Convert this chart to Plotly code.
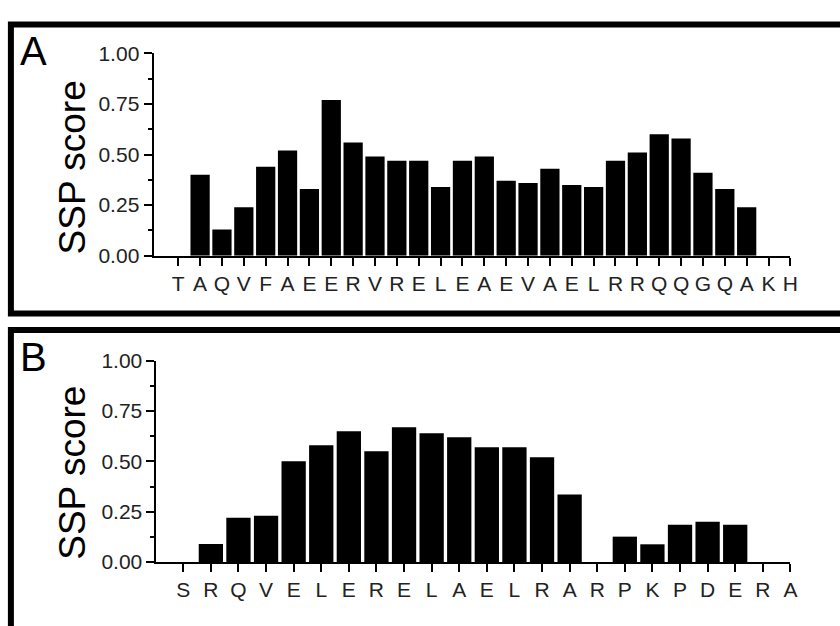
import plotly.graph_objects as go

W, H = 840, 626

# Panel A data
res_a = ["T","A","Q","V","F","A","E","E","R","V","R","E","L","E","A","E","V","A","E","L","R","R","Q","Q","G","Q","A","K","H"]
ssp_a = [None,0.40,0.13,0.24,0.44,0.52,0.33,0.77,0.56,0.49,0.47,0.47,0.34,0.47,0.49,0.37,0.36,0.43,0.35,0.34,0.47,0.51,0.60,0.58,0.41,0.33,0.24,None,None]

# Panel B data
res_b = ["S","R","Q","V","E","L","E","R","E","L","A","E","L","R","A","R","P","K","P","D","E","R","A"]
ssp_b = [None,0.09,0.22,0.23,0.50,0.58,0.65,0.55,0.67,0.64,0.62,0.57,0.57,0.52,0.335,None,0.126,0.088,0.185,0.20,0.185,None,None]

yticks = [0, 0.25, 0.5, 0.75, 1.0]
ytext = ["0.00", "0.25", "0.50", "0.75", "1.00"]

def px(x):
    return x / W

def py(y):
    return 1 - y / H

fig = go.Figure()
fig.add_trace(go.Bar(x=list(range(len(res_a))), y=ssp_a, marker=dict(color="black", line=dict(width=0)),
                     xaxis="x", yaxis="y", showlegend=False))
fig.add_trace(go.Bar(x=list(range(len(res_b))), y=ssp_b, marker=dict(color="black", line=dict(width=0)),
                     xaxis="x2", yaxis="y2", showlegend=False))

font_tick = dict(family="Liberation Sans, Arial, sans-serif", size=21, color="#222")

def xaxis_cfg(domain, rng, labels, anchor):
    return dict(domain=domain, range=rng, anchor=anchor, tickmode="array",
                tickvals=list(range(len(labels))), ticktext=labels, ticks="outside",
                ticklen=8, tickwidth=2, tickcolor="black", showline=True, linewidth=2,
                linecolor="black", showgrid=False, zeroline=False, tickfont=font_tick,
                fixedrange=True)

def yaxis_cfg(domain, anchor):
    return dict(domain=domain, range=[0, 1], anchor=anchor, tickmode="array",
                tickvals=yticks, ticktext=ytext, ticks="outside", ticklen=8, tickwidth=2,
                tickcolor="black", showline=True, linewidth=2, linecolor="black",
                showgrid=False, zeroline=False, tickfont=font_tick,
                minor=dict(tickmode="array", tickvals=[0.125, 0.375, 0.625, 0.875],
                           ticks="outside", ticklen=4, tickwidth=2, tickcolor="black", showgrid=False),
                fixedrange=True)

fig.update_layout(
    width=W, height=H,
    margin=dict(l=0, r=0, t=0, b=0),
    paper_bgcolor="white", plot_bgcolor="white",
    bargap=0.12,
    xaxis=xaxis_cfg([px(155), px(798)], [-1.13, 28], res_a, "y"),
    yaxis=yaxis_cfg([py(253), py(43)], "x"),
    xaxis2=xaxis_cfg([px(158), px(798)], [-0.97, 22], res_b, "y2"),
    yaxis2=yaxis_cfg([py(571), py(362)], "x2"),
)

title_font = dict(family="Liberation Sans, Arial, sans-serif", size=37, color="black")
letter_font = dict(family="Liberation Sans, Arial, sans-serif", size=40, color="black")

fig.add_annotation(x=px(73), y=py(161), xref="paper", yref="paper", text="SSP score",
                   textangle=-90, showarrow=False, font=title_font, xanchor="center", yanchor="middle")
fig.add_annotation(x=px(73), y=py(478), xref="paper", yref="paper", text="SSP score",
                   textangle=-90, showarrow=False, font=title_font, xanchor="center", yanchor="middle")
fig.add_annotation(x=px(18), y=py(16), xref="paper", yref="paper", text="A",
                   showarrow=False, font=letter_font, xanchor="left", yanchor="top")
fig.add_annotation(x=px(18), y=py(333), xref="paper", yref="paper", text="B",
                   showarrow=False, font=letter_font, xanchor="left", yanchor="top")

# panel frames
fig.add_shape(type="rect", xref="paper", yref="paper", x0=px(11), x1=px(860), y0=py(313), y1=py(13),
              line=dict(color="black", width=6), fillcolor="rgba(0,0,0,0)", layer="below")
fig.add_shape(type="rect", xref="paper", yref="paper", x0=px(11), x1=px(860), y0=py(660), y1=py(330),
              line=dict(color="black", width=6), fillcolor="rgba(0,0,0,0)", layer="below")

fig.write_html("out.html")
